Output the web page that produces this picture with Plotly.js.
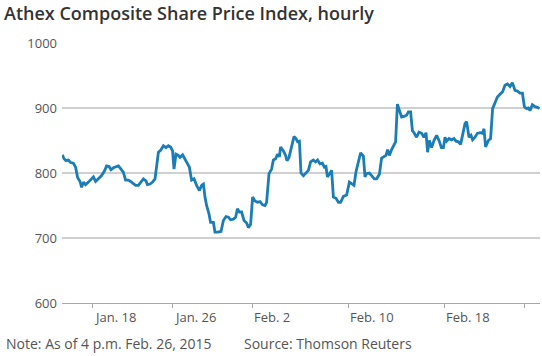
<!DOCTYPE html>
<html>
<head>
<meta charset="utf-8">
<script src="https://cdn.plot.ly/plotly-3.0.1.min.js"></script>
<style>html,body{margin:0;padding:0;background:#fff;}#chart{width:542px;height:356px;}</style>
</head>
<body>
<div id="chart"></div>
<script>
// Trading-hour index (8 per trading day, starting Jan. 15) and index level
const hours = [1.2,2.0,3.0,4.2,5.3,6.7,7.8,8.8,10.0,10.8,11.7,12.8,14.2,15.3,16.7,17.8,19.2,20.8,22.2,23.3,24.5,25.5,26.7,28.0,29.2,30.5,31.7,32.8,34.2,35.3,36.7,37.8,39.2,40.3,41.7,43.0,43.7,45.0,46.3,47.5,48.3,49.2,50.3,51.7,53.0,54.2,55.3,56.3,57.0,58.0,59.2,60.0,61.3,62.5,63.8,64.7,65.8,67.0,68.3,69.7,70.8,71.7,72.5,73.3,74.5,75.3,76.7,77.5,78.8,80.5,81.7,83.0,84.2,85.3,86.7,87.8,88.7,89.7,90.8,92.0,93.3,94.2,95.3,96.3,97.5,98.7,100.0,101.3,102.5,103.3,104.5,105.8,106.7,107.8,108.8,109.7,110.3,111.7,112.8,113.5,114.5,115.8,117.0,118.0,118.8,119.7,120.5,121.7,123.0,124.2,125.3,126.7,127.8,128.8,130.0,131.2,132.2,133.0,133.7,134.7,135.8,136.7,138.0,139.2,140.3,141.7,143.3,144.7,145.8,147.0,148.0,149.2,150.3,151.7,152.5,153.3,154.7,155.8,157.2,158.3,159.7,160.8,162.0,163.0,163.8,164.7,165.8,167.0,167.8,168.7,169.7,170.8,172.0,173.3,174.2,175.3,176.2,177.0,178.3,179.5,180.8,182.0,183.0,183.8,184.7,185.8,187.0,188.3,189.5,190.7,191.7,192.5,193.3,194.5,195.8,197.0,198.0,199.2,200.3,201.3,202.5,203.3,204.5,205.5,206.3,207.5,208.7,210.0,211.2,212.0,212.8,214.2,215.3,216.3,217.5,218.7,220.0,221.3,222.5,223.7,225.0,226.2,227.5,228.7,230.0,231.2,232.2,233.3,234.2,235.0,236.2,237.5,238.7,239.7];
const index = [828,822,819,820,816,815,809,793,787,778,786,782,786,789,794,787,792,796,803,811,810,805,808,809,811,806,801,789,789,787,783,781,781,786,791,788,782,783,786,791,814,832,835,842,839,842,840,834,806,829,827,824,828,822,814,809,789,791,781,773,781,783,763,750,737,724,724,709,709,710,727,733,732,728,729,732,745,740,740,727,723,716,721,763,757,755,756,751,750,755,799,806,820,822,829,825,840,834,827,819,824,843,856,853,848,849,800,796,800,804,817,820,817,820,814,815,809,810,794,799,804,763,761,755,755,764,766,786,784,781,802,820,831,826,794,799,800,796,791,791,798,823,825,827,836,827,836,845,848,906,896,886,887,889,894,894,865,862,855,863,861,855,862,832,850,839,850,858,850,839,839,855,849,853,851,853,849,848,844,861,876,879,855,858,851,855,861,862,861,868,840,850,853,899,909,917,921,925,935,937,933,939,927,926,923,923,902,899,900,896,905,902,901,899];
const tickHours = [16, 56, 96, 144, 192, 232];
const tickLabels = ["Jan. 18", "Jan. 26", "Feb. 2", "Feb. 10", "Feb. 18", ""];
const yTicks = [600, 700, 800, 900, 1000];

const FONT = "Open Sans, Noto Sans, sans-serif";
const annotations = tickLabels.map((t, i) => ({
  text: t, x: tickHours[i], xref: 'x', xanchor: 'left',
  y: 0, yref: 'paper', yanchor: 'top', yshift: -3, xshift: 0,
  showarrow: false, font: {family: FONT, size: 13, color: '#555'}
})).filter(a => a.text !== "");
annotations.push({
  text: "Note: As of 4 p.m. Feb. 26, 2015", xref: 'paper', x: -62/478, xshift: 4, xanchor: 'left',
  yref: 'paper', y: 0, yanchor: 'top', yshift: -29, showarrow: false,
  font: {family: FONT, size: 14, color: '#555'}
});
annotations.push({
  text: "Source: Thomson Reuters", xref: 'paper', x: -62/478, xshift: 242, xanchor: 'left',
  yref: 'paper', y: 0, yanchor: 'top', yshift: -29, showarrow: false,
  font: {family: FONT, size: 14, color: '#555'}
});

const trace = {
  x: hours, y: index, type: 'scatter', mode: 'lines',
  line: {color: '#1a7db5', width: 2.8}, hoverinfo: 'skip'
};

const layout = {
  width: 542, height: 356,
  margin: {l: 62, r: 2, t: 43, b: 53, pad: 0},
  paper_bgcolor: '#fff', plot_bgcolor: '#fff',
  showlegend: false,
  title: {
    text: 'Athex Composite Share Price Index, hourly',
    x: 4/542, xref: 'container', xanchor: 'left',
    y: 1 - 13.5/356, yref: 'container', yanchor: 'middle',
    font: {family: FONT, size: 18, color: '#333', weight: 600}
  },
  xaxis: {
    range: [1, 240], showgrid: false, zeroline: false,
    showline: true, linecolor: '#a8a8a8', linewidth: 1.2,
    tickmode: 'array', tickvals: tickHours, ticktext: tickLabels,
    showticklabels: false, ticks: 'outside', ticklen: 4, tickcolor: '#a8a8a8', tickwidth: 1
  },
  yaxis: {
    range: [600, 1000], tickmode: 'array', tickvals: yTicks,
    showgrid: true, gridcolor: '#d0d0d0', gridwidth: 1.5,
    zeroline: false, showline: false, ticks: '',
    ticklabelstandoff: 4,
    tickfont: {family: FONT, size: 13, color: '#555'}
  },
  annotations: annotations
};

Plotly.newPlot('chart', [trace], layout, {staticPlot: true, displayModeBar: false});
</script>
</body>
</html>
